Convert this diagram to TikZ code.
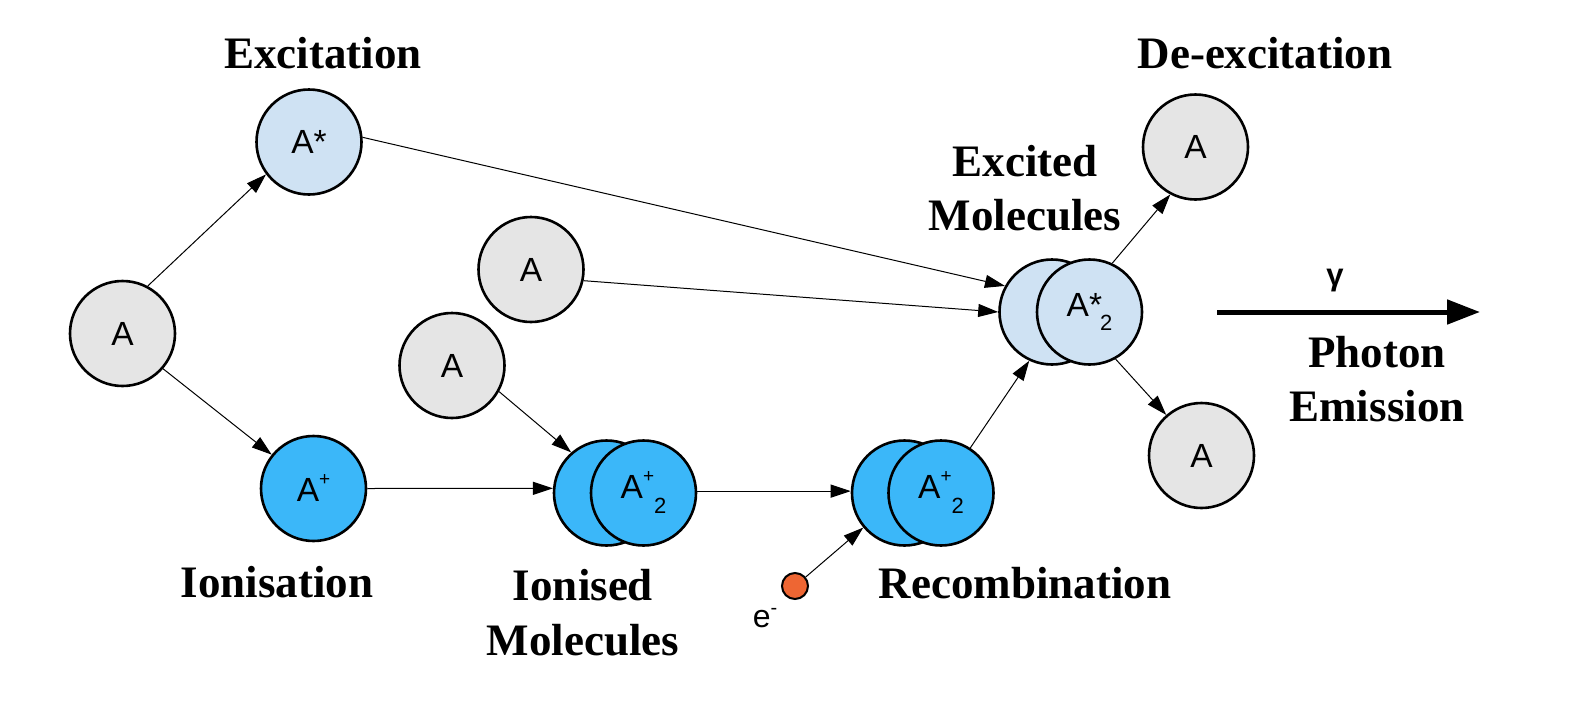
\documentclass[tikz,border=0pt]{standalone}
\usepackage{fontspec}
\setmainfont{Liberation Serif}
\newfontfamily\arialf{Liberation Sans}
\usetikzlibrary{arrows.meta}
\definecolor{gfill}{HTML}{E5E5E5}
\definecolor{lbfill}{HTML}{CFE2F3}
\definecolor{bfill}{HTML}{3BB7F9}
\definecolor{efill}{HTML}{EE6633}
\newcommand\myAion{A\raisebox{16pt}{\fontsize{19}{19}\selectfont +}\raisebox{-15pt}{\fontsize{22}{22}\selectfont 2}}
\newcommand\myAexc{A*\kern-2pt\raisebox{-14pt}{\fontsize{22}{22}\selectfont 2}}
\begin{document}
\begin{tikzpicture}[x=1pt,y=-1pt,
  atom/.style={circle, draw=black, line width=2.6pt, minimum size=105pt, inner sep=0pt,
    font=\arialf\fontsize{33.5}{33.5}\selectfont},
  greyatom/.style={atom, fill=gfill},
  lblueatom/.style={atom, fill=lbfill},
  blueatom/.style={atom, fill=bfill},
  conn/.style={line width=1pt, -{Triangle[length=20pt,width=13pt]}},
  lab/.style={font=\bfseries\fontsize{45}{49}\selectfont, align=center, inner sep=0pt, anchor=south}
]
\useasboundingbox (0,0) rectangle (1579,707);

% atoms
\node[greyatom] (a0) at (122.5,333.5) {A};
\node[lblueatom] (astar) at (309,142) {A*};
\node[blueatom] (aplus) at (313.5,488.5) {A\raisebox{16pt}{\fontsize{19}{19}\selectfont +}};
\node[greyatom] (am1) at (531,269.5) {A};
\node[greyatom] (am2) at (452,365.5) {A};
\node[blueatom] (ion1) at (606.5,493) {};
\node[blueatom] (ion2) at (643.5,493) {\myAion};
\node[blueatom] (rec1) at (904.5,493) {};
\node[blueatom] (rec2) at (941,493) {\myAion};
\node[lblueatom] (exc1) at (1052,312) {};
\node[lblueatom] (exc2) at (1089.5,312) {\myAexc};
\node[greyatom] (atop) at (1195.5,147) {A};
\node[greyatom] (abot) at (1201.5,455.5) {A};
\node[circle, draw=black, line width=2pt, fill=efill, minimum size=26pt, inner sep=0pt] (edot) at (795,586) {};

% labels
\node[lab] (lexc) at (323,69) {Excitation};
\node[lab] (ldex) at (1265,69) {De-excitation};
\node[lab] (lion) at (277,598) {Ionisation};
\node[lab, font=\bfseries\fontsize{45}{55}\selectfont] (lionm) at (583,656) {Ionised\\Molecules};
\node[lab] (lrec) at (1025,599) {Recombination};
\node[lab, font=\bfseries\fontsize{45}{54}\selectfont] (lexm) at (1025,231) {Excited\\Molecules};
\node[lab, font=\bfseries\fontsize{45}{54}\selectfont] (lph) at (1377,422) {Photon\\Emission};
\node[anchor=base, inner sep=0pt, font=\arialf\fontsize{32}{32}\selectfont] (elab) at (765,627) {e\raisebox{13pt}{\fontsize{20}{20}\selectfont -}};
\node[anchor=base, inner sep=0pt, font=\arialf\bfseries\fontsize{31}{31}\selectfont] (gam) at (1335,285) {γ};

% connectors
\draw[conn] (a0.62) -- (astar.217);
\draw[conn] (a0.-41) -- (aplus.141);
\draw[conn] (astar.5) -- (exc1.151);
\draw[conn] (am1.-12) -- (exc1.180);
\draw[conn] (am2.-29) -- (ion1.131);
\draw[conn] (aplus.east) -- (ion1.175);
\draw[conn] (ion2.2) -- (rec1.178);
\draw[conn] (edot.40) -- (rec1.220);
\draw[conn] (rec2.57) -- (exc1.245);
\draw[conn] (exc2.65) -- (atop.242);
\draw[conn] (exc2.-61) -- (abot.131);

% photon arrow
\coordinate (p1) at (1217,312);
\coordinate (p2) at (1480,312);
\draw[line width=5pt, -{Triangle[length=33pt,width=24pt]}] (p1) -- (p2);
\end{tikzpicture}
\end{document}
